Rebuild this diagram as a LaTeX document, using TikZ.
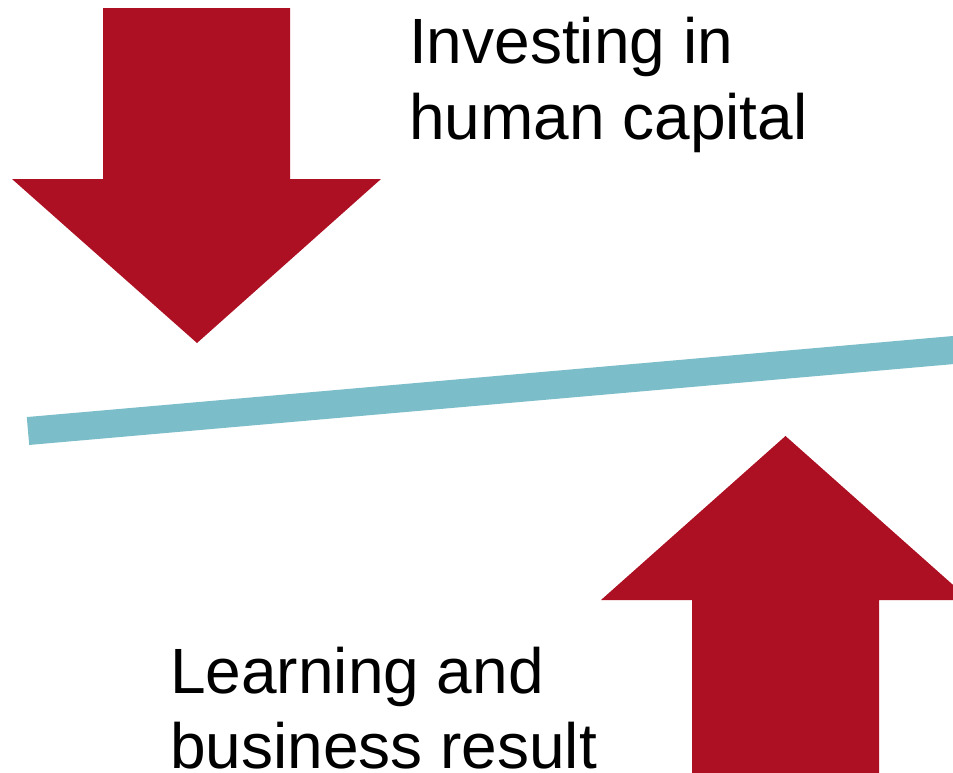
\documentclass[tikz,border=0pt]{standalone}
\usepackage{fontspec}
\setmainfont{Liberation Sans}
\definecolor{arrowred}{HTML}{AD1023}
\definecolor{beamteal}{HTML}{7BBDC8}
\tikzset{
  bigarrow/.style={fill=arrowred, draw=none},
  beam/.style={draw=beamteal, line width=28pt, line cap=butt},
  label/.style={anchor=base west, inner sep=0pt, font=\fontsize{64}{75}\selectfont}
}
\begin{document}
\begin{tikzpicture}[x=1pt, y=-1pt]
\useasboundingbox (0,0) rectangle (953,772);
\clip (0,0) rectangle (953,772);
% down arrow
\fill[bigarrow] (103,8) -- (290,8) -- (290,179) -- (381,179) -- (197,343) -- (12,179) -- (103,179) -- cycle;
% up arrow
\fill[bigarrow] (692,775) -- (692,600) -- (601,600) -- (785.5,436) -- (970,600) -- (879,600) -- (879,775) -- cycle;
% beam
\coordinate (bl) at (28,431);
\coordinate (br) at (980,347.7);
\draw[beam] (bl) -- (br);
% texts
\node[label, font=\fontsize{64}{76}\selectfont] (top) at (409,63) {\vtop{\hbox{Investing in}\hbox{human capital}}};
\node[label] (bot) at (170,693) {\vtop{\hbox{Learning and}\hbox{business result}}};
\end{tikzpicture}
\end{document}
